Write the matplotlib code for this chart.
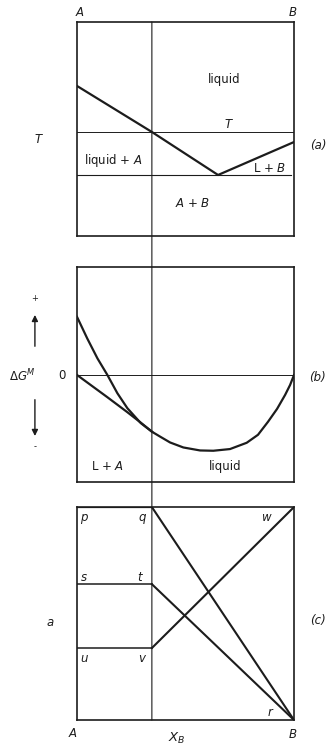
import matplotlib
matplotlib.use("Agg")
import matplotlib.pyplot as plt
from matplotlib.patches import ConnectionPatch

plt.rcParams['font.family'] = ['DejaVu Sans']
plt.rcParams['mathtext.fontset'] = 'dejavusans'

# composition of the mixture (vertical line)
x0 = 0.345

# (a) phase diagram, T scaled 0..1
liquidus_x = [0.0, x0, 0.650, 1.0]
liquidus_T = [0.701, 0.486, 0.285, 0.439]
T_line = 0.486
T_eutectic = 0.285

# (b) free energy of mixing, zero line at 0
liquid_x = [0.0, 0.138, 0.230, 0.295, 0.346, 0.382, 0.429, 0.490, 0.567, 0.628,
            0.705, 0.782, 0.834, 0.880, 0.922, 0.959, 0.982, 1.0]
liquid_G = [0.0, -0.22, -0.37, -0.48, -0.57, -0.617, -0.677, -0.727, -0.757, -0.76,
            -0.743, -0.68, -0.60, -0.47, -0.34, -0.20, -0.10, 0.0]
solidA_x = [0.0, 0.047, 0.094, 0.140, 0.186, 0.232, 0.294, 0.346]
solidA_G = [0.583, 0.367, 0.167, 0.0, -0.183, -0.333, -0.483, -0.57]

# (c) activities
a_p = 1.0
a_s = 0.638
a_u = 0.338

ink = '#1c1c1c'
fs = 8.5

fig = plt.figure(figsize=(3.27, 7.47), dpi=100)
ax_a = fig.add_axes([0.2355, 0.6841, 0.6636, 0.2865])
ax_b = fig.add_axes([0.2355, 0.3548, 0.6636, 0.2878])
ax_c = fig.add_axes([0.2355, 0.0361, 0.6636, 0.2851])

for ax in (ax_a, ax_b, ax_c):
    ax.set_xlim(0, 1)
    ax.set_xticks([])
    ax.set_yticks([])
    for sp in ax.spines.values():
        sp.set_linewidth(1.2)
        sp.set_color(ink)

# ---- (a)
ax_a.set_ylim(0, 1)
ax_a.plot(liquidus_x, liquidus_T, color=ink, lw=1.6)
ax_a.plot([0, 1], [T_line, T_line], color=ink, lw=0.7)
ax_a.plot([0, 0.985], [T_eutectic, T_eutectic], color=ink, lw=0.8)
ax_a.text(0.677, 0.729, 'liquid', ha='center', va='center', fontsize=fs, color=ink)
ax_a.text(0.696, 0.519, 'T', ha='center', va='center', fontsize=fs, color=ink, style='italic')
ax_a.text(0.166, 0.355, r'liquid + $\mathit{A}$', ha='center', va='center', fontsize=fs, color=ink)
ax_a.text(0.889, 0.313, r'L + $\mathit{B}$', ha='center', va='center', fontsize=fs, color=ink)
ax_a.text(0.535, 0.150, r'$\mathit{A}$ + $\mathit{B}$', ha='center', va='center', fontsize=fs, color=ink)
ax_a.text(-0.18, 0.453, 'T', ha='center', va='center', fontsize=fs, color=ink, style='italic')
ax_a.text(1.11, 0.425, '(a)', ha='center', va='center', fontsize=fs, color=ink, style='italic')
ax_a.text(0.01, 1.042, 'A', ha='center', va='center', fontsize=fs, color=ink, style='italic')
ax_a.text(0.995, 1.042, 'B', ha='center', va='center', fontsize=fs, color=ink, style='italic')

# ---- (b)
ax_b.set_ylim(-1.073, 1.083)
ax_b.axhline(0, color=ink, lw=0.7)
ax_b.plot(liquid_x, liquid_G, color=ink, lw=1.6, solid_joinstyle='round')
ax_b.plot(solidA_x, solidA_G, color=ink, lw=1.6, solid_joinstyle='round')
ax_b.text(0.143, -0.92, r'L + $\mathit{A}$', ha='center', va='center', fontsize=fs, color=ink)
ax_b.text(0.682, -0.92, 'liquid', ha='center', va='center', fontsize=fs, color=ink)
ax_b.text(-0.07, -0.01, '0', ha='center', va='center', fontsize=fs, color=ink)
ax_b.text(-0.253, -0.01, r'$\mathit{\Delta G}^{M}$', ha='center', va='center', fontsize=fs, color=ink)
ax_b.text(-0.194, 0.77, '+', ha='center', va='center', fontsize=6, color=ink)
ax_b.text(-0.194, -0.72, '-', ha='center', va='center', fontsize=6, color=ink)
ax_b.annotate('', xy=(-0.194, 0.63), xytext=(-0.194, 0.26), xycoords='data',
              arrowprops=dict(arrowstyle='-|>', color=ink, lw=1.0, mutation_scale=9),
              annotation_clip=False)
ax_b.annotate('', xy=(-0.194, -0.64), xytext=(-0.194, -0.22), xycoords='data',
              arrowprops=dict(arrowstyle='-|>', color=ink, lw=1.0, mutation_scale=9),
              annotation_clip=False)
ax_b.text(1.11, -0.03, '(b)', ha='center', va='center', fontsize=fs, color=ink, style='italic')

# ---- (c)
ax_c.set_ylim(0, 1)
ax_c.plot([0, x0], [a_p, a_p], color=ink, lw=1.6)
ax_c.plot([0, x0], [a_s, a_s], color=ink, lw=1.1)
ax_c.plot([0, x0], [a_u, a_u], color=ink, lw=1.1)
ax_c.plot([x0, 1], [a_p, 0], color=ink, lw=1.5)
ax_c.plot([x0, 1], [a_s, 0], color=ink, lw=1.5)
ax_c.plot([x0, 1], [a_u, 1], color=ink, lw=1.5)
for lab, lx, ly in [('p', 0.032, 0.953), ('q', 0.30, 0.953), ('w', 0.876, 0.953),
                    ('s', 0.032, 0.667), ('t', 0.29, 0.667),
                    ('u', 0.032, 0.291), ('v', 0.30, 0.291), ('r', 0.889, 0.035)]:
    ax_c.text(lx, ly, lab, ha='center', va='center', fontsize=fs, color=ink, style='italic')
ax_c.text(-0.124, 0.46, 'a', ha='center', va='center', fontsize=fs, color=ink, style='italic')
ax_c.text(1.112, 0.469, '(c)', ha='center', va='center', fontsize=fs, color=ink, style='italic')
ax_c.text(-0.018, -0.061, 'A', ha='center', va='center', fontsize=fs, color=ink, style='italic')
ax_c.text(0.995, -0.066, 'B', ha='center', va='center', fontsize=fs, color=ink, style='italic')
ax_c.text(0.46, -0.085, r'$X_B$', ha='center', va='center', fontsize=fs + 1, color=ink)

# vertical composition line through all three panels
con = ConnectionPatch(xyA=(x0, 1), coordsA=ax_a.transData,
                      xyB=(x0, 0), coordsB=ax_c.transData,
                      color=ink, lw=0.8)
fig.add_artist(con)

fig.savefig('out.png', dpi=100)
